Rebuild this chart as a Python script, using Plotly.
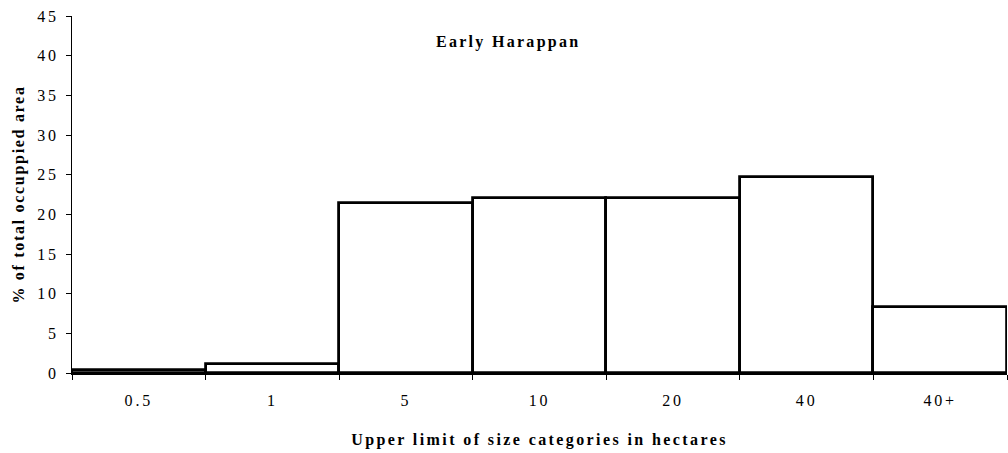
import plotly.graph_objects as go

# Size categories (upper limit, hectares) and share of total occupied area (%)
categories = ["0.5", "1", "5", "10", "20", "40", "40+"]
pct_area = [0.4, 1.1, 21.4, 22.1, 22.1, 24.7, 8.3]

serif = "Liberation Serif, Times New Roman, serif"

W, H = 1008, 453
ML, MR, MT, MB = 72, 1, 16, 80

fig = go.Figure(
    go.Bar(
        x=categories,
        y=pct_area,
        marker=dict(color="white", line=dict(color="black", width=2.8)),
        hoverinfo="x+y",
    )
)

plot_w = W - ML - MR
plot_h = H - MT - MB

fig.update_layout(
    width=W,
    height=H,
    margin=dict(l=ML, r=MR, t=MT, b=MB),
    paper_bgcolor="white",
    plot_bgcolor="white",
    bargap=0,
    showlegend=False,
    font=dict(family=serif, size=15, color="black"),
    annotations=[
        dict(
            text="<b>Early Harappan</b>",
            x=(508 - ML) / plot_w,
            y=(H - MB - 42) / plot_h,
            xref="paper", yref="paper",
            xanchor="center", yanchor="middle",
            showarrow=False,
            font=dict(family=serif, size=16, color="black"),
        )
    ],
)

fig.update_xaxes(
    type="category",
    tickson="boundaries",
    ticks="outside",
    ticklen=5,
    tickcolor="black",
    tickwidth=1,
    showline=True,
    linecolor="black",
    linewidth=1.5,
    showgrid=False,
    ticklabelstandoff=12,
    tickfont=dict(family=serif, size=16),
    title=dict(
        text="<b>Upper limit of size categories in hectares</b>",
        font=dict(family=serif, size=16),
        standoff=26,
    ),
)

fig.update_yaxes(
    range=[0, 45],
    tickvals=list(range(0, 50, 5)),
    ticks="outside",
    ticklen=5,
    tickcolor="black",
    tickwidth=1,
    showline=True,
    linecolor="black",
    linewidth=1,
    showgrid=False,
    zeroline=False,
    ticklabelstandoff=4,
    tickfont=dict(family=serif, size=16),
    title=dict(
        text="<b>% of total occuppied area</b>",
        font=dict(family=serif, size=16),
        standoff=14,
    ),
)

# wide-set lettering for the labels, as in the printed figure
letter_spacing_css = """
var st = document.createElement('style');
st.textContent = '.xtick text, .ytick text {letter-spacing: 2.8px;}'
  + ' .g-xtitle text {letter-spacing: 2.4px;}'
  + ' .g-ytitle text {letter-spacing: 1.7px;}'
  + ' text.annotation-text {letter-spacing: 2.3px;}';
document.head.appendChild(st);
"""

fig.write_html("out.html", post_script=letter_spacing_css)
